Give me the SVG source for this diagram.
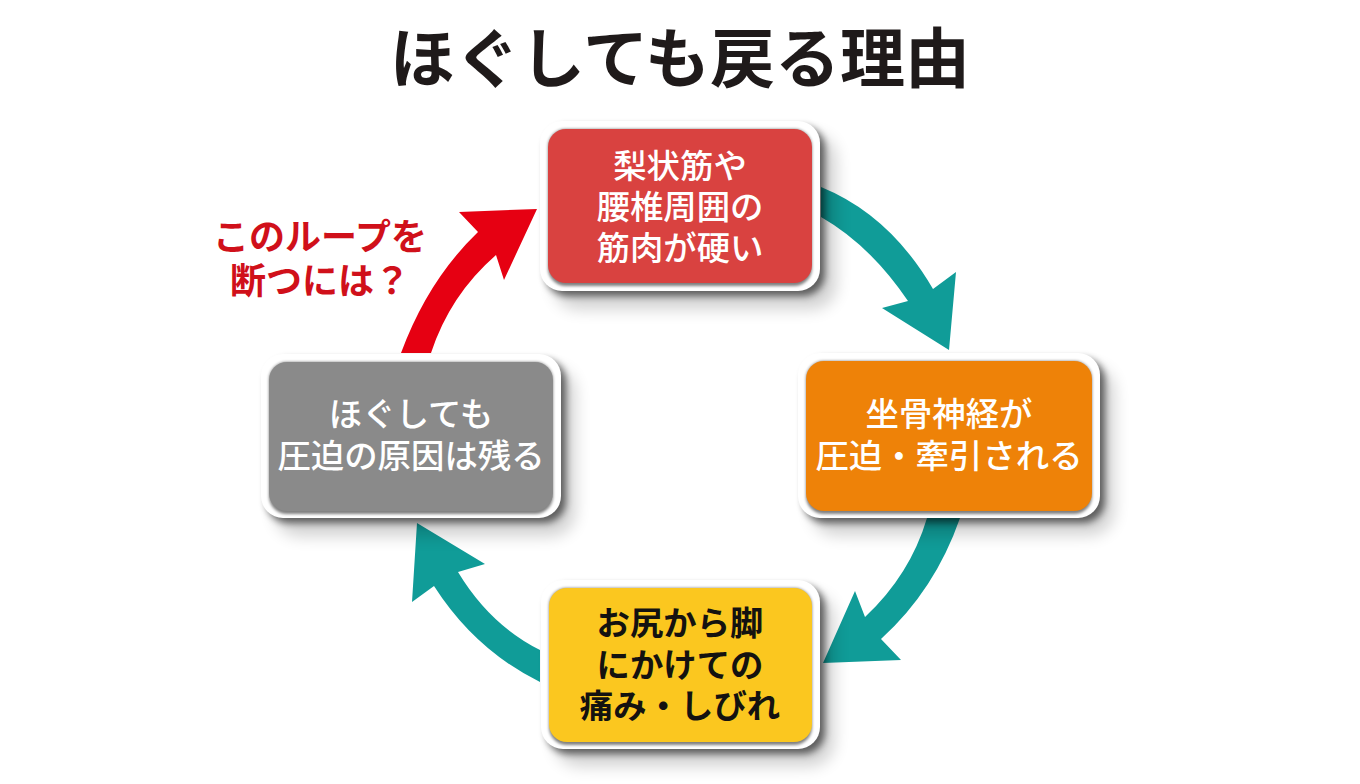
<svg xmlns="http://www.w3.org/2000/svg" width="1360" height="784" viewBox="0 0 1360 784">
<defs>
<filter id="soft" x="-20%" y="-20%" width="150%" height="150%"><feGaussianBlur stdDeviation="8"/></filter>
<filter id="tight" x="-10%" y="-10%" width="120%" height="120%"><feGaussianBlur stdDeviation="3.5"/></filter>
<filter id="edge" x="-10%" y="-10%" width="120%" height="120%"><feGaussianBlur stdDeviation="1.5"/></filter>
</defs>
<style>
text{font-family:"Noto Sans CJK JP","Noto Sans CJK SC",sans-serif;text-anchor:middle}
.title{font-size:65px;font-weight:700;fill:#1f1a1a}
.t{font-size:33.4px;font-weight:500;fill:#fff}
.k{font-size:33.4px;font-weight:700;fill:#141210}
.loop{font-size:36px;font-weight:700;fill:#d0101a}
.teal{fill:#109c98}
.red{fill:#e60012}
.s1{fill:#000;opacity:.18;filter:url(#soft)}
.s2{fill:#000;opacity:.55;filter:url(#tight)}
.b{fill:#fff}
.e{fill:#000;opacity:.5;filter:url(#edge)}
</style>
<rect width="1360" height="784" fill="#fff"/>
<text class="title" x="680" y="82">ほぐしても戻る理由</text>
<g id="connectors">
<path class="teal" d="M821,187 Q890,215 933,289 L956,272 L949,350 L882,308 L908,301 Q870,245 821,217 Z"/>
<path class="teal" d="M960,518 Q935,590 881,639 L901,660 L823,663 L855,591 L865,617 Q910,575 927,518 Z"/>
<path class="teal" d="M540,650 Q490,625 458,572 L485,564 L417,523 L412,602 L434,586 Q475,650 540,682 Z"/>
<path class="red" d="M401,353 Q428,280 478,232 L459,212 L537,209 L504,280 L496,255 Q450,295 431,353 Z"/>
</g>
<g id="loop-label">
<text class="loop"><tspan x="320" y="250">このループを</tspan><tspan x="320" y="294">断つには？</tspan></text>
</g>
<g id="node-red">
<rect class="s1" x="554" y="135" width="282" height="174" rx="24"/>
<rect class="s2" x="545" y="126" width="280" height="170" rx="22"/>
<rect class="b" x="540" y="121" width="280" height="170" rx="22"/>
<rect class="e" x="548" y="129" width="264" height="157" rx="18"/>
<rect x="548" y="129" width="264" height="154" rx="18" fill="#d94240"/>
<text class="t"><tspan x="680" y="178">梨状筋や</tspan><tspan x="680" y="219">腰椎周囲の</tspan><tspan x="680" y="260">筋肉が硬い</tspan></text>
</g>
<g id="node-orange">
<rect class="s1" x="812" y="367" width="302" height="168" rx="24"/>
<rect class="s2" x="803" y="358" width="302" height="165" rx="22"/>
<rect class="b" x="798" y="353" width="302" height="165" rx="22"/>
<rect class="e" x="806" y="361" width="286" height="153" rx="18"/>
<rect x="806" y="361" width="286" height="150" rx="18" fill="#ee8208"/>
<text class="t"><tspan x="949" y="426">坐骨神経が</tspan><tspan x="949" y="468">圧迫・牽引される</tspan></text>
</g>
<g id="node-yellow">
<rect class="s1" x="555" y="594" width="279" height="172" rx="24"/>
<rect class="s2" x="546" y="585" width="279" height="169" rx="22"/>
<rect class="b" x="541" y="580" width="279" height="169" rx="22"/>
<rect class="e" x="549" y="588" width="263" height="157" rx="18"/>
<rect x="549" y="588" width="263" height="154" rx="18" fill="#fbc71f"/>
<text class="k"><tspan x="680" y="635">お尻から脚</tspan><tspan x="680" y="677">にかけての</tspan><tspan x="680" y="718">痛み・しびれ</tspan></text>
</g>
<g id="node-gray">
<rect class="s1" x="275" y="368" width="300" height="168" rx="24"/>
<rect class="s2" x="266" y="359" width="300" height="164" rx="22"/>
<rect class="b" x="261" y="354" width="300" height="164" rx="22"/>
<rect class="e" x="269" y="362" width="284" height="152" rx="18"/>
<rect x="269" y="362" width="284" height="149" rx="18" fill="#8a8a8a"/>
<text class="t"><tspan x="411" y="426">ほぐしても</tspan><tspan x="411" y="468">圧迫の原因は残る</tspan></text>
</g>
</svg>
